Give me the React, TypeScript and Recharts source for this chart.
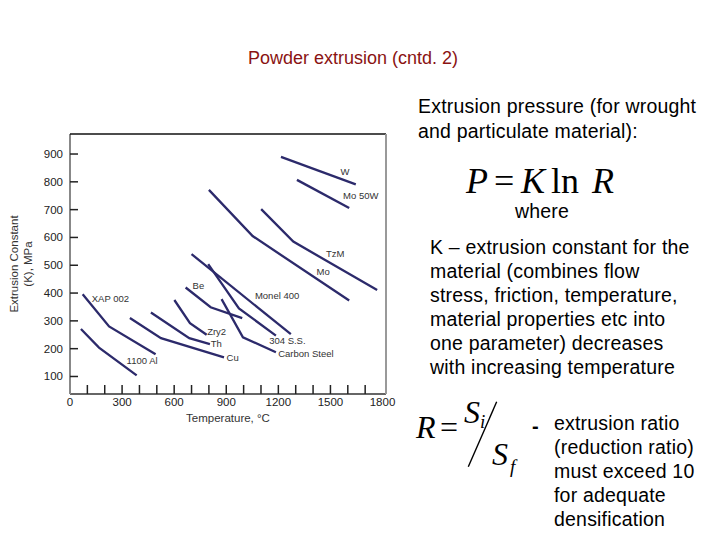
import { LineChart, Line, XAxis, YAxis, ReferenceDot, Label } from "recharts";

// extrusion constant K (MPa) vs temperature (°C)
const tungsten = [{ t: 1215, k: 890 }, { t: 1646, k: 791 }];
const mo50w = [{ t: 1307, k: 807 }, { t: 1608, k: 706 }];
const molybdenum = [{ t: 800, k: 771 }, { t: 1052, k: 605 }, { t: 1608, k: 373 }];
const tzm = [{ t: 1101, k: 702 }, { t: 1286, k: 585 }, { t: 1769, k: 411 }];
const monel400 = [{ t: 700, k: 540 }, { t: 1272, k: 252 }];
const stainless304 = [{ t: 796, k: 504 }, { t: 973, k: 345 }, { t: 1186, k: 247 }];
const carbonSteel = [{ t: 873, k: 378 }, { t: 996, k: 241 }, { t: 1186, k: 187 }];
const beryllium = [{ t: 666, k: 420 }, { t: 810, k: 349 }, { t: 992, k: 310 }];
const zry2 = [{ t: 601, k: 375 }, { t: 691, k: 292 }, { t: 787, k: 250 }];
const thorium = [{ t: 466, k: 330 }, { t: 687, k: 238 }, { t: 806, k: 216 }];
const copper = [{ t: 345, k: 310 }, { t: 524, k: 238 }, { t: 887, k: 169 }];
const xap002 = [{ t: 73, k: 396 }, { t: 225, k: 280 }, { t: 493, k: 180 }];
const al1100 = [{ t: 63, k: 271 }, { t: 167, k: 204 }, { t: 384, k: 104 }];

const SERIES = [
  tungsten, mo50w, molybdenum, tzm, monel400, stainless304, carbonSteel,
  beryllium, zry2, thorium, copper, xap002, al1100,
];

const LABEL_NAMES = ["W", "Mo 50W", "TzM", "Mo", "Monel 400", "Be", "XAP 002", "Zry2", "Th", "Cu", "304 S.S.", "Carbon Steel", "1100 Al"];
const LABEL_T = [1558, 1573, 1474, 1420, 1065, 706, 125, 790, 810, 902, 1147, 1199, 326];
const LABEL_K = [836, 750, 541, 477, 391, 427, 379, 262, 219, 167, 229, 182, 156];

const X_TICKS = [0, 100, 200, 300, 400, 500, 600, 700, 800, 900, 1000, 1100, 1200, 1300, 1400, 1500, 1600, 1700, 1800];
const Y_TICKS = [100, 200, 300, 400, 500, 600, 700, 800, 900];

const X_DOMAIN = [0, 1820];
const Y_DOMAIN = [37, 972];

const CHART_W = 400;
const CHART_H = 440;
const MARGIN = { top: 134, right: 14, bottom: 16, left: 40 };
const X_AXIS_H = 30;
const Y_AXIS_W = 30;
// plot box edges, derived from the layout above
const PLOT_LEFT = MARGIN.left + Y_AXIS_W;
const PLOT_RIGHT = CHART_W - MARGIN.right;
const PLOT_TOP = MARGIN.top;
const PLOT_BOTTOM = CHART_H - MARGIN.bottom - X_AXIS_H;

const LINE_COLOR = "#2c2a6b";
const SANS = "'Liberation Sans', Arial, sans-serif";
const SERIF = "'Liberation Serif', 'Times New Roman', serif";

function XTick(props: any) {
  const { x, y, payload } = props;
  const v = payload.value;
  return (
    <g>
      {v > 0 && v < 1800 && <line x1={x} y1={y} x2={x} y2={y - 9} stroke="#222" strokeWidth={1.5} />}
      {v % 300 === 0 && (
        <text x={x} y={y + 12} textAnchor="middle" fontSize={11.5} fill="#222">
          {v}
        </text>
      )}
    </g>
  );
}

function YTick(props: any) {
  const { x, y, payload } = props;
  return (
    <g>
      <line x1={x} y1={y} x2={x + 8} y2={y} stroke="#222" strokeWidth={1.5} />
      <text x={x - 7} y={y + 4} textAnchor="end" fontSize={11.5} fill="#222">
        {payload.value}
      </text>
    </g>
  );
}

function YTitle(props: any) {
  const vb = props.viewBox;
  const cy = vb.y + vb.height / 2;
  return (
    <g transform={`translate(21, ${cy}) rotate(-90)`}>
      <text textAnchor="middle" y={-3} fontSize={11.5} fill="#333">Extrusion Constant</text>
      <text textAnchor="middle" y={11} fontSize={11.5} fill="#333">(K), MPa</text>
    </g>
  );
}

function XTitle(props: any) {
  const vb = props.viewBox;
  return (
    <text x={vb.x + vb.width / 2} y={vb.y + 28} textAnchor="middle" fontSize={11.5} fill="#333">
      Temperature, °C
    </text>
  );
}

const PARA_1 = ["Extrusion pressure (for wrought", "and particulate material):"];
const PARA_K = [
  "K – extrusion constant for the",
  "material (combines flow",
  "stress, friction, temperature,",
  "material properties etc into",
  "one parameter) decreases",
  "with increasing temperature",
];
const PARA_R = ["extrusion ratio", "(reduction ratio)", "must exceed 10", "for adequate", "densification"];

export default function App() {
  return (
    <div style={{ position: "absolute", left: 0, top: 0, width: 720, height: 540, background: "#fff", fontFamily: SANS }}>
      <div style={{ position: "absolute", left: 0, top: 0 }}>
        <LineChart width={CHART_W} height={CHART_H} margin={MARGIN}>
          <XAxis
            type="number"
            dataKey="t"
            domain={X_DOMAIN}
            allowDataOverflow
            ticks={X_TICKS}
            interval={0}
            tick={<XTick />}
            tickLine={false}
            tickSize={0}
            tickMargin={0}
            height={X_AXIS_H}
            axisLine={{ stroke: "#333", strokeWidth: 1.5 }}
          >
            <Label content={<XTitle />} />
          </XAxis>
          <YAxis
            type="number"
            dataKey="k"
            domain={Y_DOMAIN}
            allowDataOverflow
            ticks={Y_TICKS}
            interval={0}
            tick={<YTick />}
            tickLine={false}
            tickSize={0}
            tickMargin={0}
            width={Y_AXIS_W}
            axisLine={{ stroke: "#888", strokeWidth: 2 }}
          >
            <Label content={<YTitle />} />
          </YAxis>
          {SERIES.map((s, i) => (
            <Line
              key={i}
              data={s}
              dataKey="k"
              type="linear"
              stroke={LINE_COLOR}
              strokeWidth={2.3}
              dot={false}
              activeDot={false}
              isAnimationActive={false}
            />
          ))}
          {LABEL_NAMES.map((name, i) => (
            <ReferenceDot
              key={name}
              x={LABEL_T[i]}
              y={LABEL_K[i]}
              r={0}
              fill="none"
              stroke="none"
              label={{ value: name, position: "right", offset: 0, fontSize: 9.5, fill: "#333" }}
            />
          ))}
        </LineChart>
      </div>

      <svg width={720} height={540} style={{ position: "absolute", left: 0, top: 0, pointerEvents: "none" }}>
        {/* plot frame: top and right edges */}
        <line x1={PLOT_LEFT} y1={PLOT_TOP} x2={PLOT_RIGHT} y2={PLOT_TOP} stroke="#111" strokeWidth={1.5} />
        <line x1={PLOT_RIGHT} y1={PLOT_TOP} x2={PLOT_RIGHT} y2={PLOT_BOTTOM} stroke="#999" strokeWidth={2} />

        <text x={248} y={63.5} fontSize={18} fill="#8a1212" fontFamily={SANS}>
          Powder extrusion (cntd. 2)
        </text>

        {PARA_1.map((line, i) => (
          <text key={line} x={418} y={112.7 + i * 25} fontSize={19.5} letterSpacing={0.2} fill="#000" fontFamily={SANS}>
            {line}
          </text>
        ))}

        <g fontFamily={SERIF} fontSize={36} fill="#000">
          <text x={466} y={193} fontStyle="italic">P</text>
          <text x={494} y={193}>=</text>
          <text x={521} y={193} fontStyle="italic">K</text>
          <text x={551} y={193}>ln</text>
          <text x={592} y={193} fontStyle="italic">R</text>
        </g>

        <text x={515} y={218.3} fontSize={19.5} letterSpacing={0.2} fontFamily={SANS}>where</text>

        {PARA_K.map((line, i) => (
          <text key={line} x={430} y={254 + i * 24} fontSize={19.5} letterSpacing={0.2} fill="#000" fontFamily={SANS}>
            {line}
          </text>
        ))}

        <g fontFamily={SERIF} fill="#000">
          <text x={416} y={438} fontSize={32} fontStyle="italic">R</text>
          <text x={440} y={438} fontSize={32}>=</text>
          <text x={464} y={423.3} fontSize={32} fontStyle="italic">S</text>
          <text x={480} y={428} fontSize={19} fontStyle="italic">i</text>
          <line x1={468.3} y1={466.7} x2={496.7} y2={401.7} stroke="#000" strokeWidth={1.4} />
          <text x={492} y={465} fontSize={32} fontStyle="italic">S</text>
          <text x={510} y={473} fontSize={19} fontStyle="italic">f</text>
        </g>
        <text x={532} y={433} fontSize={20} fontWeight="bold" fontFamily={SANS}>-</text>

        {PARA_R.map((line, i) => (
          <text key={line} x={554} y={430 + i * 24} fontSize={19.5} letterSpacing={0.2} fill="#000" fontFamily={SANS}>
            {line}
          </text>
        ))}
      </svg>
    </div>
  );
}
